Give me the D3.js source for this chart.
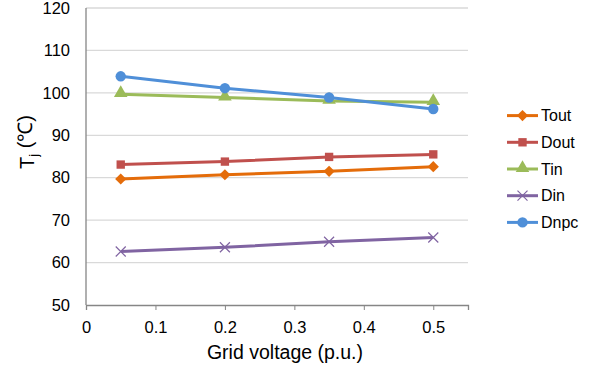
<!DOCTYPE html>
<html>
<head>
<meta charset="utf-8">
<script src="https://cdn.jsdelivr.net/npm/d3@7"></script>
<style>
  body { margin: 0; background: #fff; }
  text { font-family: "Liberation Sans", Arial, sans-serif; fill: #000; }
</style>
</head>
<body>
<svg id="chart"></svg>
<script>
var width = 595, height = 366;
var plotLeft = 86, plotRight = 468, plotTop = 8, plotBottom = 305;

var gridVoltage = [0.05, 0.2, 0.35, 0.5];
var seriesNames = ["Tout", "Dout", "Tin", "Din", "Dnpc"];
var tout = [79.7, 80.7, 81.5, 82.6];
var dout = [83.1, 83.8, 84.9, 85.5];
var tin  = [99.7, 98.9, 98.1, 97.8];
var din  = [62.6, 63.6, 64.9, 65.9];
var dnpc = [103.9, 101.1, 98.9, 96.2];
var xTicks = [0, 0.1, 0.2, 0.3, 0.4, 0.5];
var yTicks = [50, 60, 70, 80, 90, 100, 110, 120];

var seriesValues = [tout, dout, tin, din, dnpc];
var colors = ["#E46C0A", "#C0504D", "#9BBB59", "#8064A2", "#4F8FD8"];
var shapes = ["diamond", "square", "triangle", "cross", "circle"];

var svg = d3.select("#chart").attr("width", width).attr("height", height);

var xScale = d3.scaleLinear().domain([0, 0.55]).range([plotLeft, plotRight]);
var yScale = d3.scaleLinear().domain([50, 120]).range([plotBottom, plotTop]);

// gridlines
svg.append("g")
  .selectAll("line")
  .data(yTicks.slice(1))
  .enter()
  .append("line")
  .attr("x1", plotLeft).attr("x2", plotRight)
  .attr("y1", d => yScale(d)).attr("y2", d => yScale(d))
  .attr("stroke", "#d9d9d9").attr("stroke-width", 1.3);

var xAxis = d3.axisBottom(xScale).tickValues(xTicks).tickSize(5).tickPadding(11)
  .tickFormat(d => d === 0 ? "0" : d3.format(".1f")(d));
var yAxis = d3.axisLeft(yScale).tickValues(yTicks).tickSize(0).tickPadding(16);

var gx = svg.append("g").attr("transform", "translate(0," + plotBottom + ")").call(xAxis);
var gy = svg.append("g").attr("transform", "translate(" + plotLeft + ",0)").call(yAxis);
gy.select(".domain").remove();
svg.append("line")
  .attr("x1", plotLeft).attr("x2", plotLeft).attr("y1", plotTop).attr("y2", plotBottom)
  .attr("stroke", "#868686").attr("stroke-width", 1.3);
gx.select(".domain").attr("stroke", "#868686").attr("stroke-width", 1.3);
gx.selectAll(".tick line").attr("stroke", "#868686");
[gx, gy].forEach(g => g.selectAll("text")
  .style("font-size", "16.5px").style("font-family", "Liberation Sans, Arial, sans-serif"));

svg.append("text")
  .attr("x", 285).attr("y", 359)
  .attr("text-anchor", "middle")
  .style("font-size", "19.5px")
  .text("Grid voltage (p.u.)");

var ylab = svg.append("text")
  .attr("transform", "translate(34,142) rotate(-90)")
  .attr("text-anchor", "middle")
  .style("font-size", "20px");
ylab.append("tspan").text("T");
ylab.append("tspan").attr("dy", "0.3em").style("font-size", "13px").text("j");
ylab.append("tspan").attr("dy", "-0.3em").text(" (\u2103)");

var line = d3.line().x((d, i) => xScale(gridVoltage[i])).y(d => yScale(d));

function drawMarker(g, shape, color, x, y) {
  if (shape === "cross") {
    g.append("path")
      .attr("d", "M" + (x - 5) + "," + (y - 5) + "L" + (x + 5) + "," + (y + 5) +
                 "M" + (x - 5) + "," + (y + 5) + "L" + (x + 5) + "," + (y - 5))
      .attr("stroke", color).attr("stroke-width", 1.2).attr("fill", "none");
    return;
  }
  var sym = {
    diamond: d3.symbol().type(d3.symbolDiamond2).size(80),
    square: d3.symbol().type(d3.symbolSquare).size(70),
    triangle: d3.symbol().type(d3.symbolTriangle).size(80),
    circle: d3.symbol().type(d3.symbolCircle).size(85)
  }[shape];
  g.append("path")
    .attr("d", sym())
    .attr("transform", "translate(" + x + "," + (shape === "triangle" ? y - 1 : y) + ")")
    .attr("fill", color);
}

seriesValues.forEach(function (vals, s) {
  var g = svg.append("g");
  g.append("path")
    .datum(vals)
    .attr("d", line)
    .attr("fill", "none")
    .attr("stroke", colors[s])
    .attr("stroke-width", 3);
  vals.forEach(function (v, i) {
    drawMarker(g, shapes[s], colors[s], xScale(gridVoltage[i]), yScale(v));
  });
});

// legend
var legend = svg.append("g");
seriesNames.forEach(function (name, s) {
  var y = 115.6 + s * 26.7;
  var g = legend.append("g");
  g.append("line")
    .attr("x1", 507).attr("x2", 538).attr("y1", y).attr("y2", y)
    .attr("stroke", colors[s]).attr("stroke-width", 3);
  drawMarker(g, shapes[s], colors[s], 522.5, y);
  g.append("text")
    .attr("x", 541).attr("y", y).attr("dy", "0.35em")
    .style("font-size", "16px")
    .text(name);
});
</script>
</body>
</html>
